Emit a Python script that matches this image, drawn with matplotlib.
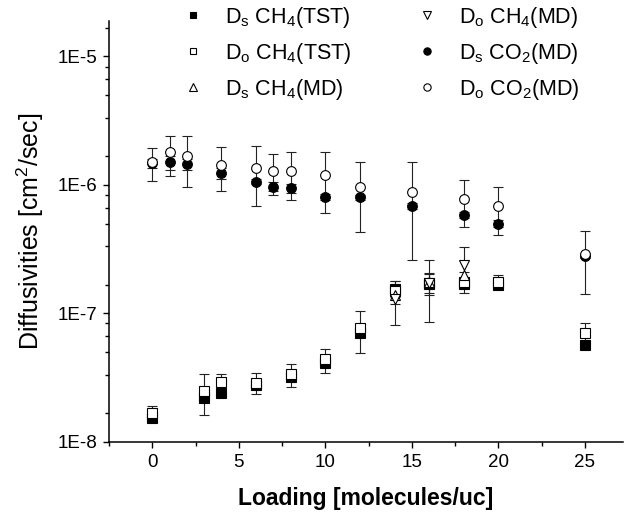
import numpy as np
import matplotlib
matplotlib.use("Agg")
import matplotlib.pyplot as plt
from matplotlib.ticker import FixedLocator, NullFormatter

plt.rcParams["font.family"] = ["Liberation Sans", "DejaVu Sans"]
plt.rcParams["mathtext.fontset"] = "custom"
plt.rcParams["mathtext.rm"] = "Liberation Sans"

# ---------------------------------------------------------------------------
# data
# ---------------------------------------------------------------------------
x_tst      = [0, 3, 4, 6, 8, 10, 12, 14, 16, 18, 20, 25]
ds_ch4_tst = [1.52e-8, 2.18e-8, 2.38e-8, 2.76e-8, 3.21e-8, 4.08e-8, 6.98e-8,
              1.54e-7, 1.68e-7, 1.69e-7, 1.66e-7, 5.66e-8]
do_ch4_tst = [1.66e-8, 2.50e-8, 2.90e-8, 2.88e-8, 3.37e-8, 4.38e-8, 7.64e-8,
              1.48e-7, 1.71e-7, 1.75e-7, 1.76e-7, 6.98e-8]
do_ch4_tst_err = [0.24e-8, 0.88e-8, 0.45e-8, 0.52e-8, 0.68e-8, 0.93e-8, 2.77e-8,
                  0.30e-7, 0.31e-7, 0.10e-7, 0.22e-7, 1.47e-8]

x_md       = [14, 16, 18]
ds_ch4_md  = [1.38e-7, 1.75e-7, 2.00e-7]
ds_ch4_md_err = [0.05e-7, 0.30e-7, 0.10e-7]
do_ch4_md  = [1.30e-7, 1.72e-7, 2.36e-7]
do_ch4_md_err = [0.49e-7, 0.86e-7, 0.92e-7]

x_co2      = [0, 1, 2, 4, 6, 7, 8, 10, 12, 15, 18, 20, 25]
ds_co2     = [1.47e-6, 1.50e-6, 1.45e-6, 1.23e-6, 1.06e-6, 0.97e-6, 0.94e-6,
              8.05e-7, 8.0e-7, 6.85e-7, 5.8e-7, 5.0e-7, 2.8e-7]
ds_co2_err = [0.11e-6, 0.19e-6, 0.14e-6, 0.12e-6, 0.05e-6, 0.08e-6, 0.07e-6,
              0.04e-6, 0.04e-6, 0.04e-6, 0.03e-6, 0.03e-6, 0.01e-6]
do_co2     = [1.50e-6, 1.80e-6, 1.69e-6, 1.44e-6, 1.35e-6, 1.28e-6, 1.28e-6,
              1.20e-6, 9.7e-7, 8.8e-7, 7.8e-7, 6.85e-7, 2.88e-7]
do_co2_err = [0.43e-6, 0.62e-6, 0.73e-6, 0.54e-6, 0.67e-6, 0.45e-6, 0.52e-6,
              0.60e-6, 0.54e-6, 0.62e-6, 0.31e-6, 0.28e-6, 1.46e-7]

labels = [r"D$_\mathregular{s}$ CH$_\mathregular{4}$(TST)",
          r"D$_\mathregular{o}$ CH$_\mathregular{4}$(TST)",
          r"D$_\mathregular{s}$ CH$_\mathregular{4}$(MD)",
          r"D$_\mathregular{o}$ CH$_\mathregular{4}$(MD)",
          r"D$_\mathregular{s}$ CO$_\mathregular{2}$(MD)",
          r"D$_\mathregular{o}$ CO$_\mathregular{2}$(MD)"]

# ---------------------------------------------------------------------------
fig = plt.figure(figsize=(6.24, 5.14), dpi=100)
ax = fig.add_axes([109 / 624, 72.3 / 514, 514 / 624, 420.7 / 514])

eb_kw = dict(fmt="none", ecolor="#222222", elinewidth=0.8, capsize=3.6,
             capthick=0.8, zorder=1)
ax.errorbar(x_tst, do_ch4_tst, yerr=do_ch4_tst_err, **eb_kw)
ax.errorbar(x_md, ds_ch4_md, yerr=ds_ch4_md_err, **eb_kw)
ax.errorbar(x_md, do_ch4_md, yerr=do_ch4_md_err, **eb_kw)
ax.errorbar(x_co2, ds_co2, yerr=ds_co2_err, **eb_kw)
ax.errorbar(x_co2, do_co2, yerr=do_co2_err, **eb_kw)

mk = dict(ls="none", mec="black", mew=0.8, zorder=3)
h1, = ax.plot(x_tst, ds_ch4_tst, "s", ms=6.5, mfc="black", label=labels[0], **mk)
h2, = ax.plot(x_tst, do_ch4_tst, "s", ms=6.5, mfc="white", label=labels[1], **mk)
h3, = ax.plot(x_md, ds_ch4_md, "^", ms=7, mfc="white", label=labels[2], **mk)
h4, = ax.plot(x_md, do_ch4_md, "v", ms=7, mfc="white", label=labels[3], **mk)
h5, = ax.plot(x_co2, ds_co2, "o", ms=7, mfc="black", label=labels[4], **mk)
h6, = ax.plot(x_co2, do_co2, "o", ms=7, mfc="white", label=labels[5], **mk)

ax.set_yscale("log")
ax.set_xlim(-2.5, 27.2)
ax.set_ylim(1e-8, 1.89e-5)

ax.xaxis.set_major_locator(FixedLocator([0, 5, 10, 15, 20, 25]))
ax.xaxis.set_minor_locator(FixedLocator([-2.5, 2.5, 7.5, 12.5, 17.5, 22.5]))
ax.yaxis.set_major_locator(FixedLocator([1e-8, 1e-7, 1e-6, 1e-5]))
ax.set_yticklabels(["1E-8", "1E-7", "1E-6", "1E-5"])
minor_y = [k * 10.0 ** (d + 1) / 6 for d in (-8, -7, -6, -5) for k in range(1, 6)]
ax.yaxis.set_minor_locator(FixedLocator(minor_y))
ax.yaxis.set_minor_formatter(NullFormatter())

for s in ("top", "right"):
    ax.spines[s].set_visible(False)
for s in ("left", "bottom"):
    ax.spines[s].set_linewidth(1.1)
ax.tick_params(which="major", direction="out", length=4.5, width=1.0,
               labelsize=13.5, pad=4)
ax.tick_params(which="minor", direction="out", length=2.8, width=1.0)

ax.set_xlabel("Loading [molecules/uc]", fontsize=16.5, fontweight="bold",
              labelpad=12)
ax.set_ylabel(r"Diffusivities [cm$^\mathregular{2}$/sec]", fontsize=18,
              labelpad=8)

fig.legend(handles=[h1, h2, h3, h4, h5, h6], ncol=2, frameon=False,
           loc="upper left", bbox_to_anchor=(180 / 624, 1 - 5 / 514),
           fontsize=15.5, markerscale=0.75, handlelength=1.2,
           handletextpad=0.9, columnspacing=2.9, labelspacing=0.5,
           borderpad=0, borderaxespad=0)

fig.savefig("out.png", dpi=100)
